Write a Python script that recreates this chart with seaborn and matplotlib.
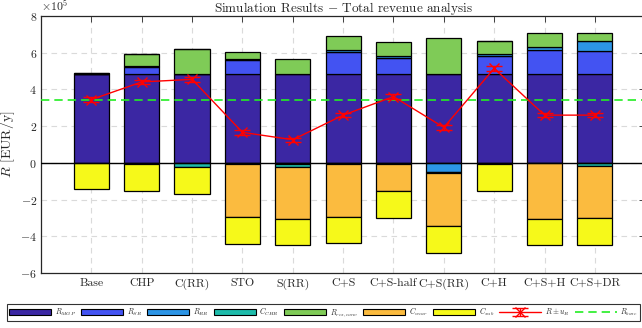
import numpy as np
import pandas as pd
import matplotlib
matplotlib.use("Agg")
import matplotlib.pyplot as plt
import seaborn as sns
from matplotlib.patches import Patch
from matplotlib.lines import Line2D

# ---------------- data (units of 1e5 EUR/y) ----------------
categories = ['Base', 'CHP', 'C(RR)', 'STO', 'S(RR)', 'C+S', 'C+S-half',
              'C+S(RR)', 'C+H', 'C+S+H', 'C+S+DR']
R_MGP = [4.84, 4.84, 4.86, 4.84, 4.84, 4.84, 4.84, 4.84, 4.84, 4.84, 4.84]
R_SR = [0.00, 0.40, 0.00, 0.74, 0.00, 1.20, 0.85, 0.00, 1.01, 1.30, 1.26]
R_RR = [0.00, 0.02, 0.00, 0.08, -0.06, 0.10, 0.12, -0.50, 0.06, 0.15, 0.55]
C_CHR = [0.00, -0.09, -0.24, -0.06, -0.16, -0.06, -0.05, -0.08, -0.06, -0.03, -0.15]
R_res_conv = [0.05, 0.65, 1.37, 0.37, 0.83, 0.80, 0.78, 1.97, 0.74, 0.79, 0.40]
C_wear = [0.00, 0.00, 0.00, -2.88, -2.83, -2.88, -1.50, -2.89, 0.00, -3.02, -2.88]
C_sub = [-1.42, -1.44, -1.45, -1.47, -1.44, -1.44, -1.45, -1.43, -1.45, -1.44, -1.44]
R_total = [3.45, 4.41, 4.55, 1.66, 1.26, 2.60, 3.61, 1.93, 5.15, 2.60, 2.60]
u_R = [0.12, 0.12, 0.15, 0.12, 0.12, 0.12, 0.12, 0.12, 0.12, 0.12, 0.12]
R_base = 3.43
SCALE = 1e5

series_names = [r'$R_{MGP}$', r'$R_{SR}$', r'$R_{RR}$', r'$C_{CHR}$',
                r'$R_{res,conv}$', r'$C_{wear}$', r'$C_{sub}$']
series_vals = [R_MGP, R_SR, R_RR, C_CHR, R_res_conv, C_wear, C_sub]
series_cols = ['#3b27a3', '#4353f2', '#2c95e6', '#1ebcab',
               '#7fcb57', '#fbbb3f', '#f6f91a']

# ---------------- style ----------------
sns.set_theme(style="whitegrid")
plt.rcParams['font.family'] = ['cmr10', 'DejaVu Serif']
plt.rcParams['mathtext.fontset'] = 'cm'
plt.rcParams['axes.formatter.use_mathtext'] = True
plt.rcParams['axes.unicode_minus'] = False

fig = plt.figure(figsize=(6.42, 3.28), dpi=100)
ax = fig.add_axes([0.064, 0.168, 0.941, 0.783])

pos_cum = np.zeros(len(categories))
neg_cum = np.zeros(len(categories))
for name, vals, col in zip(series_names, series_vals, series_cols):
    v = np.array(vals, dtype=float)
    bottom = np.where(v >= 0, pos_cum, neg_cum)
    df = pd.DataFrame({'cat': categories, 'val': v * SCALE})
    sns.barplot(data=df, x='cat', y='val', color=col, errorbar=None,
                width=0.7, saturation=1, edgecolor='black', linewidth=0.9,
                bottom=bottom * SCALE, ax=ax, zorder=3)
    pos_cum = pos_cum + np.where(v >= 0, v, 0)
    neg_cum = neg_cum + np.where(v < 0, v, 0)

ax.axhline(0, color='black', lw=1.0, zorder=4)

xpos = np.arange(len(categories))
eb = ax.errorbar(xpos, np.array(R_total) * SCALE, yerr=np.array(u_R) * SCALE,
                 color='red', marker='x', markersize=7, lw=1.0, capsize=6,
                 capthick=1.0, zorder=6)
ax.axhline(R_base * SCALE, color='#22ee22', ls=(0, (5, 3)), lw=1.2, zorder=5)

ax.set_xlim(-1, 11)
ax.set_ylim(-6e5, 8e5)
ax.set_yticks(np.arange(-6, 9, 2) * SCALE)
ax.ticklabel_format(axis='y', style='sci', scilimits=(5, 5))
ax.set_xlabel('')
ax.set_ylabel(r'$R$ [EUR/y]', fontsize=10, labelpad=2)
ax.set_title(r'Simulation Results $-$ Total revenue analysis', fontsize=9.5, pad=3)

ax.grid(True, which='major', axis='both', ls=(0, (5, 4)), color='#dadada', lw=0.8)
ax.set_axisbelow(True)
for s in ax.spines.values():
    s.set_color('#262626')
    s.set_linewidth(0.9)
ax.tick_params(direction='in', length=4, width=0.6, colors='#262626',
               top=True, right=True, labelsize=8.5, pad=4)
ax.tick_params(axis='y', labelsize=8.5, pad=3)
ax.yaxis.get_offset_text().set_fontsize(8.5)

handles = [Patch(facecolor=c, edgecolor='black', linewidth=0.8) for c in series_cols]
handles.append(eb)
handles.append(Line2D([], [], color='#22ee22', ls=(0, (5, 3)), lw=1.2))
labels = series_names + [r'$R \pm u_R$', r'$R_{base}$']
leg = fig.legend(handles, labels, loc='lower left', ncol=9,
                 bbox_to_anchor=(0.011, 0.022, 0.986, 0.045), mode='expand',
                 fontsize=5.5, handlelength=5.5, handleheight=0.9,
                 columnspacing=0.8, handletextpad=0.5, borderpad=0.25,
                 fancybox=False, frameon=True, borderaxespad=0)
leg.get_frame().set_edgecolor('black')
leg.get_frame().set_linewidth(0.8)

fig.savefig('out.png', dpi=100)
